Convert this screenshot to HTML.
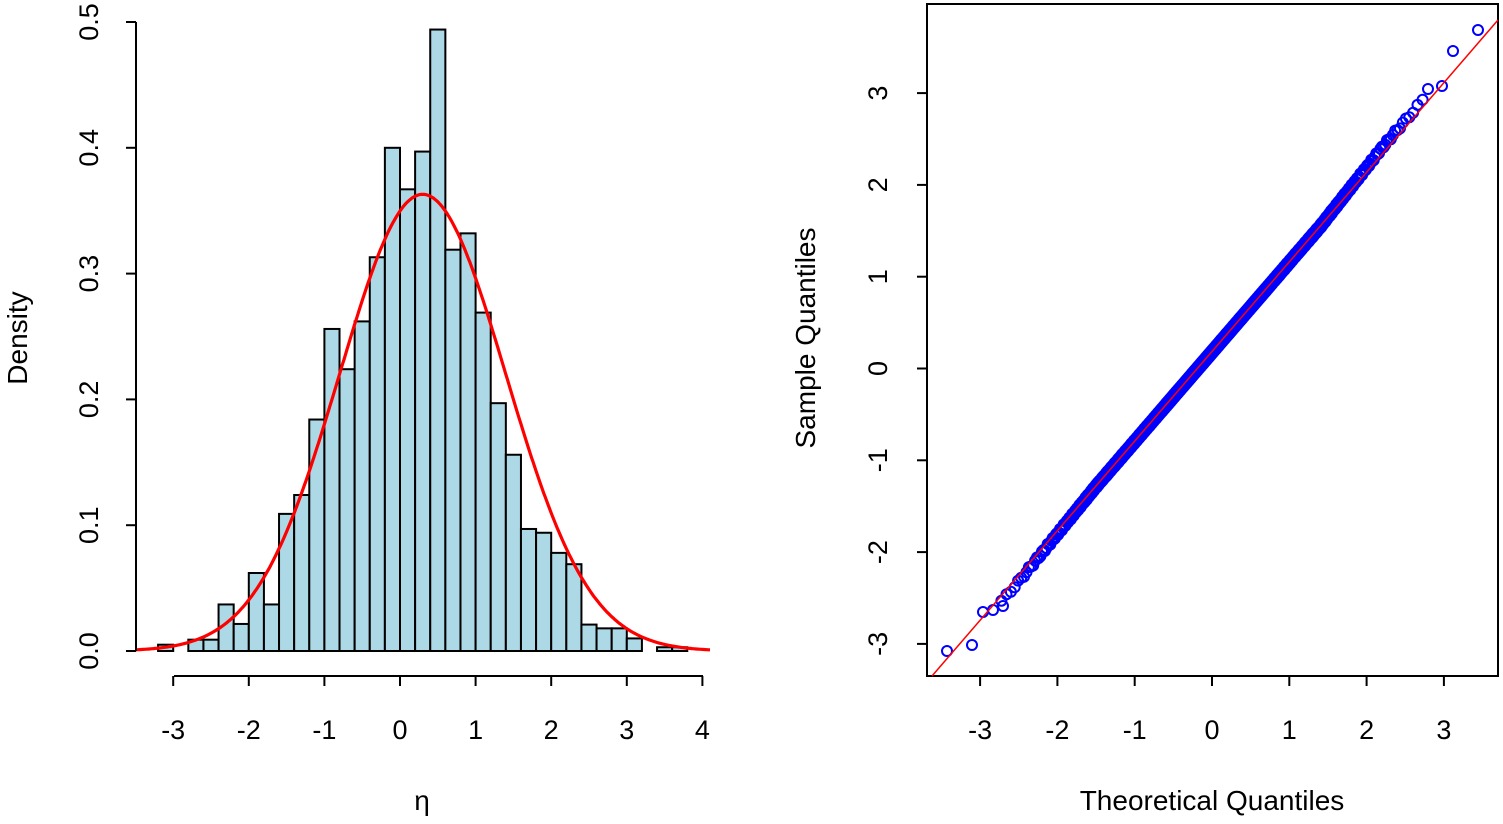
<!DOCTYPE html>
<html><head><meta charset="utf-8"><style>
html,body{margin:0;padding:0;background:#fff;}
svg text{font-family:"Liberation Sans",sans-serif;fill:#000;}
</style></head><body>
<svg id="s" width="1503" height="819" xmlns="http://www.w3.org/2000/svg">
<g id="hist" fill="#add8e6" stroke="#000" stroke-width="2"></g>
<polyline id="curve" fill="none" stroke="#ff0000" stroke-width="3.2"/>
<g stroke="#000" stroke-width="2" fill="none">
<line x1="136" y1="22" x2="136" y2="651"/>
<line x1="174" y1="676" x2="703" y2="676"/>
<rect x="927" y="4" width="571" height="672"/>
</g>
<g id="ticks" stroke="#000" stroke-width="2"></g>
<g id="labels" font-size="27"></g>
<g id="pts" fill="none" stroke="#0000ff" stroke-width="2"></g>
<line x1="932" y1="676" x2="1498" y2="20" stroke="#ff0000" stroke-width="1.5"/>
<text x="422" y="810" font-size="28" text-anchor="middle">η</text>
<text x="1212" y="810" font-size="28" text-anchor="middle">Theoretical Quantiles</text>
<text transform="translate(27,338) rotate(-90)" font-size="28" text-anchor="middle">Density</text>
<text transform="translate(815,338) rotate(-90)" font-size="28" text-anchor="middle">Sample Quantiles</text>
</svg>
<script>
var NS="http://www.w3.org/2000/svg";
function el(p,t,a,txt){var e=document.createElementNS(NS,t);for(var k in a)e.setAttribute(k,a[k]);if(txt!==undefined)e.textContent=txt;document.getElementById(p).appendChild(e);return e;}
var x0=400,sx=75.6,y0=651,sy=1258;
var d=[0.005,0,0.009,0.009,0.037,0.0215,0.062,0.037,0.109,0.124,0.184,0.256,0.224,0.262,0.313,0.40,0.367,0.397,0.494,0.319,0.332,0.269,0.197,0.156,0.097,0.094,0.078,0.069,0.021,0.018,0.018,0.01,0,0.003,0.003];
for(var i=0;i<d.length;i++){var a=-3.2+0.2*i;var xl=x0+a*sx,w=0.2*sx;if(d[i]>0){el("hist","rect",{x:xl,y:y0-d[i]*sy,width:w,height:d[i]*sy});}}
var pts=[];for(var x=-3.5;x<=4.12;x+=0.02){var v=0.363*Math.exp(-0.5*Math.pow((x-0.3)/1.099,2));pts.push((x0+x*sx).toFixed(1)+","+(y0-v*sy).toFixed(1));}
document.getElementById("curve").setAttribute("points",pts.join(" "));
for(var t=-3;t<=4;t++){var X=x0+t*sx;el("ticks","line",{x1:X,y1:676,x2:X,y2:686});el("labels","text",{x:X,y:739,"text-anchor":"middle"},String(t));}
for(var k=0;k<=5;k++){var Y=y0-k*0.1*sy;el("ticks","line",{x1:126,y1:Y,x2:136,y2:Y});el("labels","text",{transform:"translate(98,"+Y+") rotate(-90)","text-anchor":"middle"},(k/10).toFixed(1));}
var rx0=1212,rsx=77.3,ry0=368.5,rsy=91.8;
for(var t=-3;t<=3;t++){var X=rx0+t*rsx;el("ticks","line",{x1:X,y1:676,x2:X,y2:686});el("labels","text",{x:X,y:739,"text-anchor":"middle"},String(t));
var Y=ry0-t*rsy;el("ticks","line",{x1:917,y1:Y,x2:927,y2:Y});el("labels","text",{transform:"translate(887,"+Y+") rotate(-90)","text-anchor":"middle"},String(t));}
function qn(p){var a=[-39.69683028665376,220.9460984245205,-275.9285104469687,138.357751867269,-30.66479806614716,2.506628277459239],b=[-54.47609879822406,161.5858368580409,-155.6989798598866,66.80131188771972,-13.28068155288572],c=[-0.007784894002430293,-0.3223964580411365,-2.400758277161838,-2.549732539343734,4.374664141464968,2.938163982698783],dd=[0.007784695709041462,0.3224671290700398,2.445134137142996,3.754408661907416];var q,r;
if(p<0.02425){q=Math.sqrt(-2*Math.log(p));return (((((c[0]*q+c[1])*q+c[2])*q+c[3])*q+c[4])*q+c[5])/((((dd[0]*q+dd[1])*q+dd[2])*q+dd[3])*q+1);}
if(p>1-0.02425){q=Math.sqrt(-2*Math.log(1-p));return -(((((c[0]*q+c[1])*q+c[2])*q+c[3])*q+c[4])*q+c[5])/((((dd[0]*q+dd[1])*q+dd[2])*q+dd[3])*q+1);}
q=p-0.5;r=q*q;return (((((a[0]*r+a[1])*r+a[2])*r+a[3])*r+a[4])*r+a[5])*q/(((((b[0]*r+b[1])*r+b[2])*r+b[3])*r+b[4])*r+1);}
var n=1400;
for(var i=4;i<n-4;i++){var tq=qn((i+0.5)/n);var sq=0.18+0.976*tq;
var dev=0;if(tq<-1.5)dev=-0.06*Math.min(1,(-1.5-tq));if(tq>1.4)dev=0.08*Math.min(1,(tq-1.4)*1.2);
sq+=dev+0.02*Math.sin(i*1.7);
el("pts","circle",{cx:(rx0+tq*rsx).toFixed(1),cy:(ry0-sq*rsy).toFixed(1),r:5});}
var ext=[[947,651],[972,645],[983,612],[993,610],[1003,606],[1478,30],[1453,51],[1442,86],[1428,89]];
ext.forEach(function(p){el("pts","circle",{cx:p[0],cy:p[1],r:5});});
</script>
</body></html>
